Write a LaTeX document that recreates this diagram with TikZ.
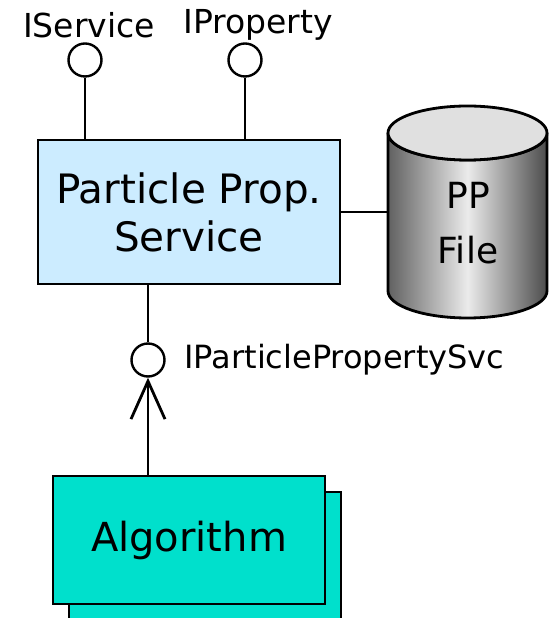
\documentclass[tikz,border=0pt]{standalone}
\usepackage{fontspec}
\setmainfont{DejaVu Sans}
\usetikzlibrary{arrows.meta}
\definecolor{svcblue}{RGB}{204,236,255}
\definecolor{algcyan}{RGB}{0,224,204}
\begin{document}
\begin{tikzpicture}[x=1pt,y=1pt,line width=2.8pt,
		iface/.style={draw,circle,fill=white,minimum size=33pt,inner sep=0pt,line width=2.4pt},
		lbl/.style={font=\fontsize{32}{38}\selectfont,inner sep=0pt}]
	\useasboundingbox (0,0) rectangle (549,618);
	% Service
	\node[draw,fill=svcblue,minimum width=302pt,minimum height=144pt,align=center,font=\fontsize{40.5}{48}\selectfont] (svc) at (189,406) {Particle Prop.\\Service};
	% Schnittstellen oben
	\node[iface] (isvc) at (85,558) {};
	\node[iface] (iprop) at (245,558) {};
	\draw (isvc.south) to (isvc.south |- svc.north);
	\draw (iprop.south) to (iprop.south |- svc.north);
	\node[lbl,font=\fontsize{33}{38}\selectfont] (isvclbl) at (89,593) {IService};
	\node[lbl,font=\fontsize{33}{38}\selectfont] (iproplbl) at (258,593) {IProperty};
	% Datei
	\path[draw,left color=black!62,right color=black!70,middle color=black!8] (388,485) to (388,327) arc[start angle=180,end angle=360,x radius=79.5,y radius=27] to (547,485) arc[start angle=0,end angle=-180,x radius=79.5,y radius=27] -- cycle;
	\draw[fill=black!12] (467.5,485) ellipse[x radius=79.5,y radius=27];
	\node[align=center,font=\fontsize{36}{55}\selectfont] (file) at (468,395) {PP\\File};
	\coordinate (filew) at (388,406);
	\draw (svc.east) to (filew);
	% Algorithmus
	\node[draw,fill=algcyan,minimum width=272pt,minimum height=128pt] (algback) at (205,62) {};
	\node[draw,fill=algcyan,minimum width=272pt,minimum height=128pt,font=\fontsize{40}{48}\selectfont] (alg) at (189,78) {Algorithm};
	% Schnittstelle unten
	\node[iface] (ipp) at (148,258) {};
	\node[lbl,anchor=west] (ipplbl) at (183,258) {IParticlePropertySvc};
	\draw (svc.south -| ipp) to (ipp.north);
	\draw[-{Straight Barb[length=38pt,width=34pt]}] (alg.north -| ipp) to (ipp.south);
\end{tikzpicture}
\end{document}
